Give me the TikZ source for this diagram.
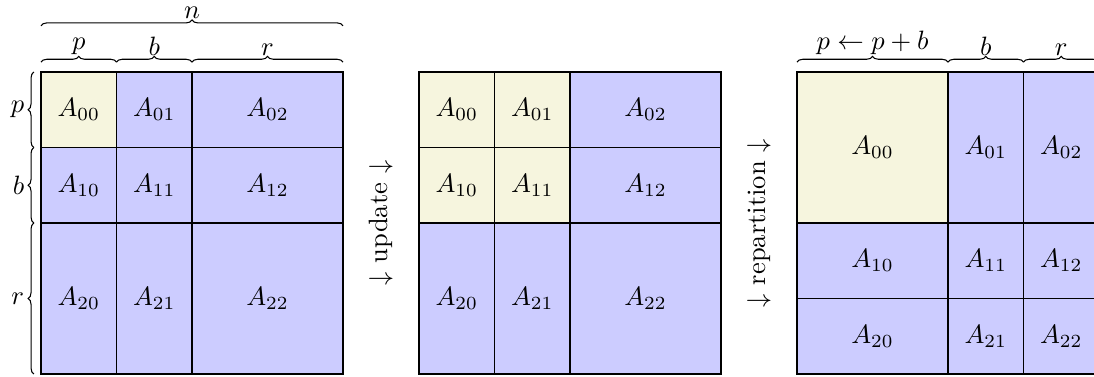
\documentclass[tikz,border=0pt]{standalone}
\usetikzlibrary{decorations.pathreplacing,calc}
\definecolor{blkblue}{RGB}{204,204,255}
\definecolor{blkdone}{RGB}{246,245,222}
\tikzset{
  cell/.style={draw=black, line width=0.4pt, inner sep=0pt, outer sep=0pt, anchor=north west, fill=blkblue},
  done/.style={fill=blkdone},
  wa/.style={minimum width=1cm},
  wb/.style={minimum width=2cm},
  ha/.style={minimum height=1cm},
  hb/.style={minimum height=2cm},
  brc/.style={decorate, decoration={brace, amplitude=2.2pt}, line width=0.4pt},
  lbl/.style={inner sep=2pt},
  step label/.style={rotate=90}
}
\begin{document}
\begin{tikzpicture}[x=0.013245cm, y=-0.013245cm]
\useasboundingbox (0,0) rectangle (1094,376);
% matrix 1
\node[cell,done,wa,ha] (a00) at (41,72) {$A_{00}$};
\node[cell,wa,ha] (a01) at (116.5,72) {$A_{01}$};
\node[cell,wb,ha] (a02) at (192,72) {$A_{02}$};
\node[cell,wa,ha] (a10) at (41,147.5) {$A_{10}$};
\node[cell,wa,ha] (a11) at (116.5,147.5) {$A_{11}$};
\node[cell,wb,ha] (a12) at (192,147.5) {$A_{12}$};
\node[cell,wa,hb] (a20) at (41,223) {$A_{20}$};
\node[cell,wa,hb] (a21) at (116.5,223) {$A_{21}$};
\node[cell,wb,hb] (a22) at (192,223) {$A_{22}$};
% matrix 2
\node[cell,done,wa,ha] (b00) at (419,72) {$A_{00}$};
\node[cell,done,wa,ha] (b01) at (494.5,72) {$A_{01}$};
\node[cell,wb,ha] (b02) at (570,72) {$A_{02}$};
\node[cell,done,wa,ha] (b10) at (419,147.5) {$A_{10}$};
\node[cell,done,wa,ha] (b11) at (494.5,147.5) {$A_{11}$};
\node[cell,wb,ha] (b12) at (570,147.5) {$A_{12}$};
\node[cell,wa,hb] (b20) at (419,223) {$A_{20}$};
\node[cell,wa,hb] (b21) at (494.5,223) {$A_{21}$};
\node[cell,wb,hb] (b22) at (570,223) {$A_{22}$};
% matrix 3
\node[cell,done,wb,hb] (c00) at (797,72) {$A_{00}$};
\node[cell,wa,hb] (c01) at (948,72) {$A_{01}$};
\node[cell,wa,hb] (c02) at (1023.5,72) {$A_{02}$};
\node[cell,wb,ha] (c10) at (797,223) {$A_{10}$};
\node[cell,wa,ha] (c11) at (948,223) {$A_{11}$};
\node[cell,wa,ha] (c12) at (1023.5,223) {$A_{12}$};
\node[cell,wb,ha] (c20) at (797,298.5) {$A_{20}$};
\node[cell,wa,ha] (c21) at (948,298.5) {$A_{21}$};
\node[cell,wa,ha] (c22) at (1023.5,298.5) {$A_{22}$};
% braces matrix 1
\draw[brc] ([yshift=17.4pt]a00.north west) -- ([yshift=17.4pt]a02.north east) node[midway, above=0.5pt, lbl] (ln) {$n$};
\draw[brc] ([yshift=3.7pt]a00.north west) -- ([yshift=3.7pt]a00.north east) node[midway, above=0.5pt, lbl] (lp) {$p$};
\draw[brc] ([yshift=3.7pt]a01.north west) -- ([yshift=3.7pt]a01.north east) node[midway, above=0.5pt, lbl] (lb) {$b$};
\draw[brc] ([yshift=3.7pt]a02.north west) -- ([yshift=3.7pt]a02.north east) node[midway, above=0.5pt, lbl] (lr) {$r$};
\draw[brc] ([xshift=-2.65pt]a00.south west) -- ([xshift=-2.65pt]a00.north west) node[midway, left=1.5pt, lbl] (lpv) {$p$};
\draw[brc] ([xshift=-2.65pt]a10.south west) -- ([xshift=-2.65pt]a10.north west) node[midway, left=1.5pt, lbl] (lbv) {$b$};
\draw[brc] ([xshift=-2.65pt]a20.south west) -- ([xshift=-2.65pt]a20.north west) node[midway, left=1.5pt, lbl] (lrv) {$r$};
% braces matrix 3
\draw[brc] ([yshift=3.7pt]c00.north west) -- ([yshift=3.7pt]c00.north east) node[midway, above=0.5pt, lbl] (lp3) {$p\leftarrow p+b$};
\draw[brc] ([yshift=3.7pt]c01.north west) -- ([yshift=3.7pt]c01.north east) node[midway, above=0.5pt, lbl] (lb3) {$b$};
\draw[brc] ([yshift=3.7pt]c02.north west) -- ([yshift=3.7pt]c02.north east) node[midway, above=0.5pt, lbl] (lr3) {$r$};
% step labels
\node[step label] (upd) at ($(a02.north east)!0.5!(b20.south west)$) {$\downarrow$ update $\downarrow$};
\node[step label] (rep) at ($(b02.north east)!0.5!(c20.south west)$) {$\downarrow$ repartition $\downarrow$};
\end{tikzpicture}
\end{document}
